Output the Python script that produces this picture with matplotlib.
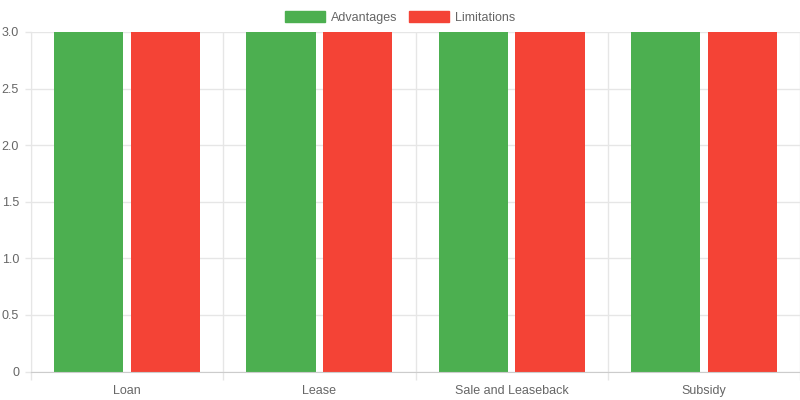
import matplotlib.pyplot as plt
from matplotlib.patches import Rectangle
from matplotlib.ticker import FixedLocator, FuncFormatter

# datos
categorias = ['Loan', 'Lease', 'Sale and Leaseback', 'Subsidy']
ventajas = [3, 3, 3, 3]
limitaciones = [3, 3, 3, 3]

verde = '#4CAF50'
rojo = '#F44336'
grid_col = '#e6e6e6'
txt_col = '#666666'

plt.rcParams['font.family'] = ['Liberation Sans', 'DejaVu Sans']

fig = plt.figure(figsize=(8, 4), dpi=100)
ax = fig.add_axes([31 / 800, (400 - 371.5) / 400, 769 / 800, 339.5 / 400])

x = list(range(len(categorias)))
ancho = 0.36
ax.bar([i - 0.2 for i in x], ventajas, ancho, color=verde, zorder=3)
ax.bar([i + 0.2 for i in x], limitaciones, ancho, color=rojo, zorder=3)

ax.set_xlim(-0.5, len(categorias) - 0.5)
ax.set_ylim(0, 3)

# ejes y rejilla
ax.set_xticks(x)
ax.set_xticklabels(categorias)
ax.xaxis.set_minor_locator(FixedLocator([i - 0.5 for i in range(len(categorias) + 1)]))
ax.tick_params(axis='x', which='major', length=0, pad=9.5, labelsize=9, labelcolor=txt_col)
ax.tick_params(axis='x', which='minor', length=5.8, color=grid_col, width=1)
ax.grid(axis='x', which='minor', color=grid_col, linewidth=1, zorder=0)

ax.set_yticks([0, 0.5, 1, 1.5, 2, 2.5, 3])
ax.yaxis.set_major_formatter(FuncFormatter(lambda v, p: '0' if v == 0 else f'{v:.1f}'))
ax.tick_params(axis='y', length=4, color=grid_col, width=1, pad=4.6, labelsize=9, labelcolor=txt_col)
ax.grid(axis='y', color=grid_col, linewidth=1, zorder=0)

for s in ['top', 'right']:
    ax.spines[s].set_visible(False)
ax.spines['left'].set_color(grid_col)
ax.spines['bottom'].set_color('#cccccc')
ax.spines['left'].set_zorder(4)
ax.spines['bottom'].set_zorder(4)

# leyenda
handles = [Rectangle((0, 0), 1, 1, color=verde), Rectangle((0, 0), 1, 1, color=rojo)]
fig.legend(handles, ['Advantages', 'Limitations'], loc='center', bbox_to_anchor=(0.5, 1 - 17.5 / 400),
           ncol=2, frameon=False, fontsize=9, labelcolor=txt_col, handlelength=3.2,
           handleheight=0.95, handletextpad=0.5, columnspacing=0.9, borderpad=0)

fig.savefig('out.png', dpi=100)
